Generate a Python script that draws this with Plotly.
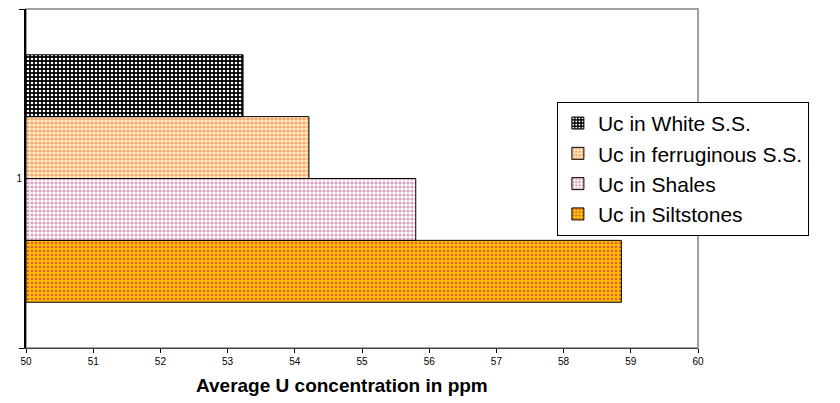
import plotly.graph_objects as go

category = ["1"]
series_names = ["Uc in Siltstones", "Uc in Shales", "Uc in ferruginous S.S.", "Uc in White S.S."]
series_values = [[58.86], [55.8], [54.21], [53.23]]
x_ticks = [50, 51, 52, 53, 54, 55, 56, 57, 58, 59, 60]

patterns = [
    dict(shape=".", bgcolor="#FFBE00", fgcolor="#E0603A", size=4, solidity=0.35),
    dict(shape=".", bgcolor="#FFFFFF", fgcolor="#D9A0C4", size=4, solidity=0.5),
    dict(shape=".", bgcolor="#FFF0C8", fgcolor="#FF9F6A", size=4, solidity=0.5),
    dict(shape=".", bgcolor="#000000", fgcolor="#FFFFFF", size=4, solidity=0.35),
]

fig = go.Figure()
for name, vals, pat in zip(series_names, series_values, patterns):
    fig.add_trace(go.Bar(
        y=category, x=[v - 50 for v in vals], base=50, name=name, orientation="h",
        marker=dict(pattern=dict(fillmode="replace", **pat), line=dict(color="#000000", width=1)),
    ))

fig.update_layout(
    width=840, height=403,
    margin=dict(l=26, r=142, t=9, b=55),
    paper_bgcolor="white", plot_bgcolor="white",
    barmode="group", bargap=0.27, bargroupgap=0,
    font=dict(family="Liberation Sans, Arial, sans-serif", color="#000000"),
    showlegend=True,
    legend=dict(x=0.79, y=0.726, xanchor="left", yanchor="top", traceorder="reversed",
                bgcolor="white", bordercolor="#000000", borderwidth=1,
                font=dict(size=21, family="Liberation Sans, Arial, sans-serif"),
                tracegroupgap=0, itemwidth=30),
    shapes=[dict(type="rect", xref="paper", yref="paper", x0=0, x1=1, y0=0, y1=1,
                 line=dict(color="#A0A0A0", width=2), layer="below")],
    annotations=[dict(text="<b>Average U concentration in ppm</b>", xref="paper", yref="paper",
                      x=(342 - 26) / 672, y=-0.075, xanchor="center", yanchor="top",
                      showarrow=False, font=dict(size=19))],
)
fig.update_xaxes(range=[50, 60], tickvals=x_ticks, ticks="outside", ticklen=4,
                 tickcolor="#000000", showline=True, linecolor="#404040", linewidth=1,
                 showgrid=False, zeroline=False, tickfont=dict(size=10))
fig.update_yaxes(type="category", ticks="outside", tickson="boundaries", ticklen=5,
                 tickcolor="#000000", showline=True, linecolor="#000000", linewidth=2,
                 showgrid=False, tickfont=dict(size=10))

fig.write_html("out.html")
